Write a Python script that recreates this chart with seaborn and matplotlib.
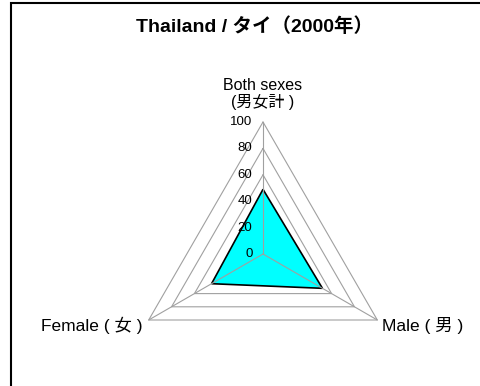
import numpy as np
import pandas as pd
import seaborn as sns
import matplotlib.pyplot as plt
from matplotlib.patches import Rectangle

# データ
categories = ['Both sexes\n(男女計 )', 'Male ( 男 )', 'Female ( 女 )']
values = [49, 52, 45]
levels = [0, 20, 40, 60, 80, 100]
title = 'Thailand / タイ（2000年）'

sns.set_theme(style='white')
plt.rcParams['font.family'] = ['Liberation Sans', 'Noto Sans CJK JP', 'DejaVu Sans']
plt.rcParams['text.color'] = 'black'

# 角度: 上から時計回り
angles = np.deg2rad([90, -30, 210])

def to_xy(r):
    r = np.asarray(r, dtype=float)
    return r * np.cos(angles), r * np.sin(angles)

fig = plt.figure(figsize=(4.81, 3.86), dpi=100)
ax = fig.add_axes([0, 0, 1, 1])
scale = 1.32  # px per unit
ax.set_xlim(-263 / scale, (481 - 263) / scale)
ax.set_ylim(-(386 - 254) / scale, 254 / scale)
ax.axis('off')

grid_color = '#a0a0a0'
# グリッド(三角形)
for lv in levels[1:]:
    gx, gy = to_xy([lv] * 3)
    df = pd.DataFrame({'x': np.append(gx, gx[0]), 'y': np.append(gy, gy[0])})
    sns.lineplot(data=df, x='x', y='y', sort=False, estimator=None,
                 color=grid_color, linewidth=0.8, ax=ax, zorder=1)

# データ領域
dx, dy = to_xy(values)
ax.fill(dx, dy, facecolor='#00ffff', edgecolor='black', linewidth=1.2, zorder=2)

# 軸線
ox, oy = to_xy([100] * 3)
for x, y in zip(ox, oy):
    ax.plot([0, x], [0, y], color=grid_color, linewidth=0.8, zorder=3)

# 目盛りラベル
for lv in levels:
    ax.text(-8, lv, str(lv), ha='right', va='center', fontsize=9.5,
            color='black', zorder=4)

# カテゴリラベル
ax.text(0, 109, categories[0], ha='center', va='bottom', fontsize=11.5,
        linespacing=1.05, color='black')
ax.text(90, -54, categories[1], ha='left', va='center', fontsize=12.5,
        color='black')
ax.text(-91, -54, categories[2], ha='right', va='center', fontsize=12.5,
        color='black')

fig.text(255 / 481, 1 - 27 / 386, title, ha='center', va='center',
         fontsize=14, fontweight='bold', color='black')

# 外枠
fig.patches.append(Rectangle((11 / 481, -0.05), 1.0, 1 - 3 / 386 + 0.05,
                             transform=fig.transFigure, fill=False,
                             edgecolor='black', linewidth=1.5))

fig.savefig('out.png', dpi=100)
